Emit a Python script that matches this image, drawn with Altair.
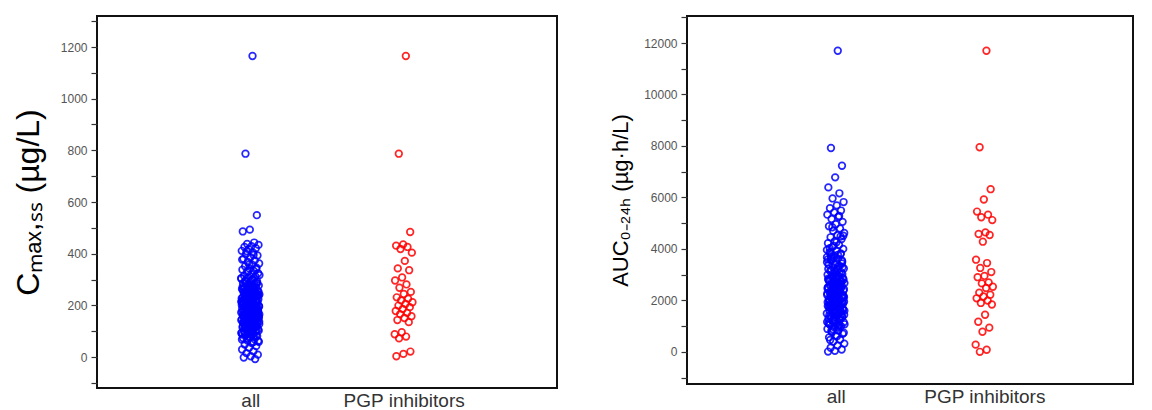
import altair as alt
import pandas as pd

# ---- data ----
groups = ["all", "PGP inhibitors"]

cmax_all = [1165, 787, 549, 493, 486, 443, 438, 434, 429, 426, 421, 417, 411, 404,
            399, 393, 386, 380, 374, 368, 362, 357, 351, 346, 342, 338, 333, 328,
            324, 319, 315, 312, 307, 303, 299, 296, 292, 289, 286, 283, 280, 277,
            274, 271, 268, 266, 263, 260, 257, 255, 252, 250, 247, 245, 242, 240,
            238, 235, 233, 231, 229, 226, 224, 222, 220, 218, 216, 214, 212, 210,
            208, 206, 204, 202, 200, 198, 196, 194, 192, 190, 188, 186, 184, 182,
            180, 178, 176, 174, 172, 170, 168, 166, 164, 162, 160, 158, 156, 154,
            152, 150, 148, 146, 144, 141, 139, 137, 135, 132, 130, 128, 125, 123,
            120, 118, 115, 112, 110, 107, 104, 101, 98, 95, 92, 88, 85, 81, 77, 73,
            69, 64, 59, 54, 48, 42, 36, 29, 22, 15, 9, 3, -2, -8,
            331, 317, 301, 294, 287, 278, 272, 264, 259, 253, 248, 243, 237, 232,
            227, 223, 219, 215, 211, 207, 203, 199, 195, 191, 187, 183, 179, 175,
            171, 167, 163, 159, 155, 151, 147, 142, 138, 134, 129, 124, 119, 114,
            108, 102, 96, 90, 83, 76, 68, 58, 262, 241, 228, 213, 197, 181, 165,
            149, 133, 117, 246, 221, 205, 189, 173, 157, 140, 126, 108, 94, 276,
            254, 236, 218, 201, 185, 169, 153, 136, 121, 341, 358, 377, 395, 409,
            188, 172, 156, 144, 131,
            305, 298, 291, 284, 270, 261, 256, 249, 239, 234, 225, 217, 209, 201,
            193, 185, 177, 169, 161, 153, 145, 137, 127, 116, 105, 99, 87, 79, 71,
            62, 282, 267, 251, 230, 214, 196, 179, 161, 146, 132]

cmax_pgp = [1165, 787, 484, 436, 431, 426, 418, 404, 372, 343, 336, 308, 296, 281,
            268, 252, 244, 231, 226, 219, 212, 205, 199, 193, 186, 178, 171, 166,
            158, 151, 143, 135, 96, 88, 79, 72, 21, 12, 3]

auc_all = [11700, 7920, 7230, 6780, 6390, 6160, 5960, 5820, 5690, 5580, 5490, 5420,
           5330, 5240, 5160, 5050, 4960, 4880, 4790, 4700, 4620, 4530, 4450, 4380,
           4300, 4220, 4150, 4070, 4000, 3930, 3870, 3800, 3740, 3680, 3620, 3560,
           3500, 3450, 3390, 3340, 3290, 3240, 3190, 3140, 3090, 3040, 3000, 2950,
           2910, 2870, 2830, 2790, 2750, 2710, 2670, 2630, 2600, 2560, 2520, 2490,
           2450, 2420, 2380, 2350, 2310, 2280, 2250, 2210, 2180, 2150, 2110, 2080,
           2050, 2010, 1980, 1950, 1910, 1880, 1850, 1810, 1780, 1740, 1710, 1670,
           1640, 1600, 1570, 1530, 1490, 1450, 1410, 1370, 1330, 1290, 1240, 1200,
           1150, 1100, 1050, 1000, 950, 890, 830, 770, 700, 630, 560, 480, 400, 320,
           240, 160, 90, 40, 10,
           5280, 4840, 4510, 4260, 4030, 3820, 3650, 3480, 3320, 3170, 3020, 2890,
           2770, 2650, 2540, 2430, 2330, 2230, 2130, 2030, 1930, 1830, 1730, 1630,
           1520, 1420, 1310, 1190, 1070, 930, 3710, 3550, 3380, 3220, 3060, 2930,
           2810, 2690, 2580, 2470, 2370, 2270, 2170, 2070, 1960, 1860, 1760, 1650,
           1550, 1440, 2980, 2860, 2740, 2620, 2510, 2400, 2300, 2190, 2090, 1990,
           4480, 4120, 3960, 3770, 3610, 1340, 1220, 1120, 1020, 880, 740, 600, 460,
           2710, 2590, 2460, 2340, 2240, 2140, 2040, 1940, 1820, 1720, 1600, 1480,
           3860, 3430, 3110, 2840, 2560, 2360, 2160, 1970, 1790, 1580, 1380, 1160,
           980, 820, 3280, 3010, 2790, 2550, 2320, 2120, 1910, 1690, 1470, 1250,
           3590, 2680, 2210, 1870, 1530, 1090]

auc_pgp = [11700, 7950, 6320, 5920, 5450, 5330, 5230, 5120, 4640, 4580, 4540, 4280,
           3580, 3450, 3260, 3100, 2950, 2900, 2700, 2660, 2530, 2480, 2300, 2220,
           2150, 2080, 1990, 1900, 1840, 1440, 1170, 940, 780, 280, 80, 0]

y_title_left = "Cₘₐₓ,ₛₛ (µg/L)"
y_title_right = "AUC₀₋₂₄ₕ (µg·h/L)"

df_cmax = pd.DataFrame({
    "group": [groups[0]] * len(cmax_all) + [groups[1]] * len(cmax_pgp),
    "value": cmax_all + cmax_pgp,
})
df_auc = pd.DataFrame({
    "group": [groups[0]] * len(auc_all) + [groups[1]] * len(auc_pgp),
    "value": auc_all + auc_pgp,
})


def panel(df, ydom, ytick_step, ylabel_step, ytick_range, title, title_size,
          title_pad, width, height):
    yvals = list(range(ytick_range[0], ytick_range[1] + 1, ytick_step))
    return (
        alt.Chart(df)
        .transform_window(idx="row_number()", groupby=["group"])
        .transform_calculate(
            gx="(datum.group == 'all' ? 1 : 2) + ((datum.idx * 0.618034) % 1 - 0.5) * 0.12"
        )
        .mark_point(shape="circle", filled=False, size=44, strokeWidth=1.7, opacity=0.85)
        .encode(
            x=alt.X(
                "gx:Q",
                scale=alt.Scale(domain=[0, 3], nice=False, zero=False),
                axis=alt.Axis(
                    values=[1, 2],
                    labelExpr="datum.value == 1 ? 'all' : 'PGP inhibitors'",
                    title=None, ticks=False, domain=False, grid=False,
                    labelFontSize=19, labelColor="#333333", labelPadding=3,
                ),
            ),
            y=alt.Y(
                "value:Q",
                scale=alt.Scale(domain=ydom, nice=False, zero=False),
                axis=alt.Axis(
                    values=yvals, format="d",
                    labelExpr=f"datum.value % {ylabel_step} == 0 ? datum.label : ''",
                    labelOverlap=False,
                    title=title, titleFontSize=title_size, titleFontWeight="normal",
                    titleColor="#000000", titlePadding=title_pad,
                    domain=False, grid=False, tickSize=6, tickColor="#333333",
                    tickWidth=1.2, labelFontSize=12, labelColor="#555555",
                    labelPadding=4,
                ),
            ),
            color=alt.Color(
                "group:N",
                scale=alt.Scale(domain=groups, range=["#0000ff", "#ff0000"]),
                legend=None,
            ),
        )
        .properties(width=width, height=height)
    )


left = panel(df_cmax, [-120, 1320], 100, 200, (-100, 1300), y_title_left, 32, 15, 460, 372)
right = panel(df_auc, [-1250, 13050], 1000, 2000, (-1000, 13000), y_title_right, 22, 11, 446, 368)

chart = (
    alt.hconcat(left, right, spacing=50)
    .properties(padding={"left": 3, "top": 2, "right": 0, "bottom": 0})
    .configure(font="Liberation Sans")
    .configure_view(stroke="#111111", strokeWidth=2)
)

chart.save("out.html", embed_options={"renderer": "svg", "actions": False})
